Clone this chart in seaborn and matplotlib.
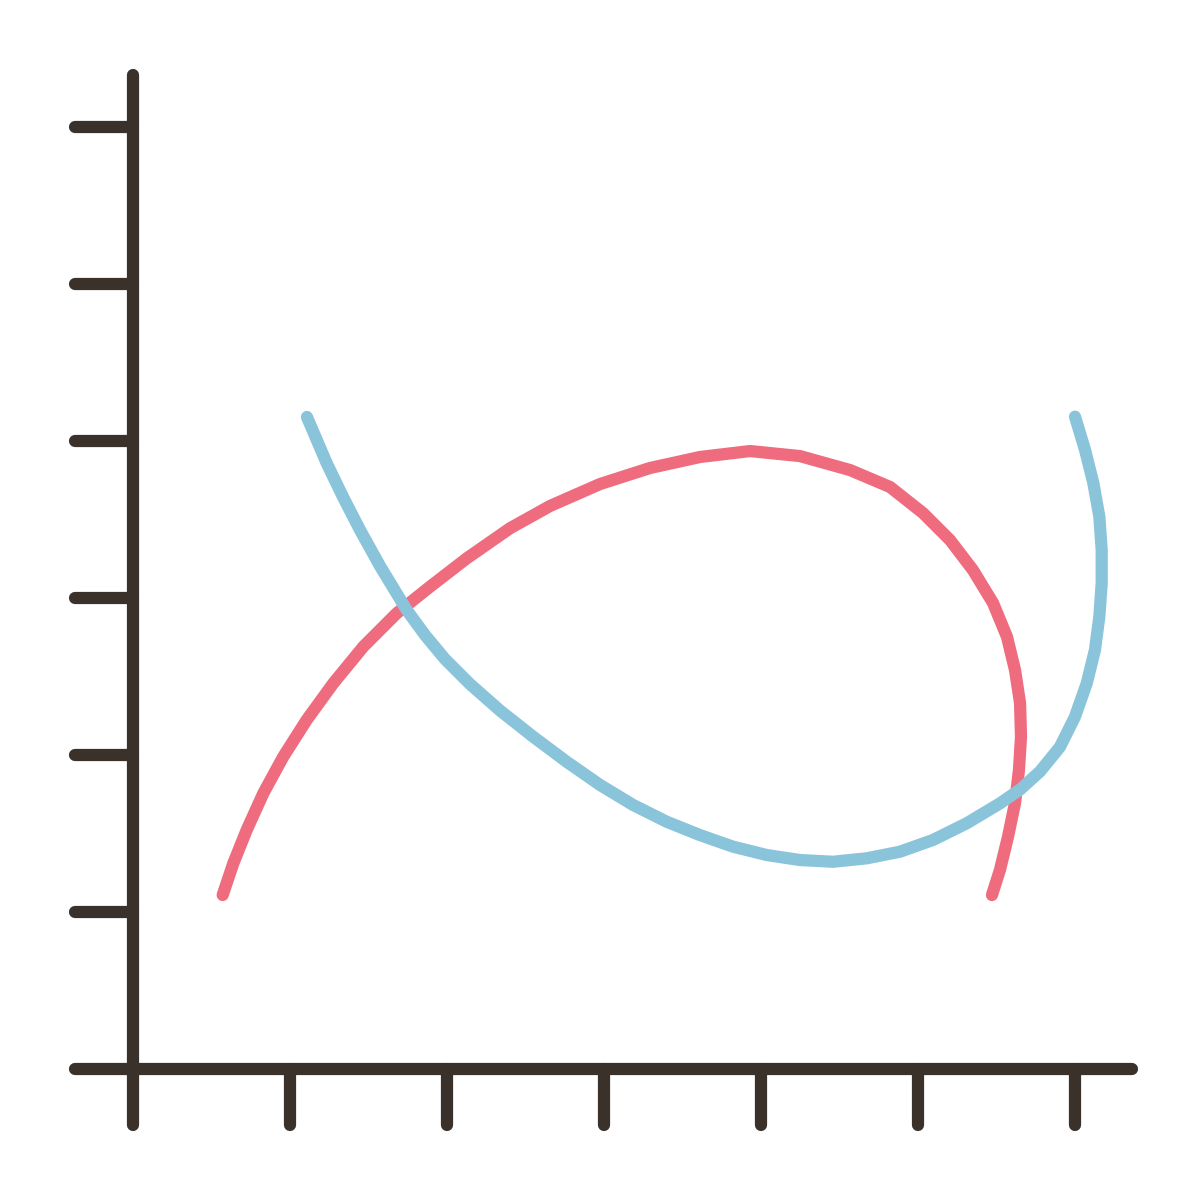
import matplotlib
matplotlib.use("Agg")
import matplotlib.pyplot as plt
import seaborn as sns
import pandas as pd

sns.set_theme(style="white")

# Data (in tick units)
red_x = [0.571, 0.639, 0.724, 0.830, 0.957, 1.106, 1.276, 1.467, 1.680, 1.892, 2.125, 2.401,
         2.656, 2.975, 3.293, 3.611, 3.930, 4.248, 4.567, 4.822, 5.032, 5.204, 5.350, 5.478,
         5.567, 5.618, 5.650, 5.656, 5.643, 5.618, 5.573, 5.522, 5.471]
red_y = [1.108, 1.310, 1.522, 1.756, 1.989, 2.223, 2.457, 2.690, 2.903, 3.072, 3.252, 3.444,
         3.586, 3.726, 3.828, 3.898, 3.936, 3.904, 3.815, 3.707, 3.541, 3.369, 3.178, 2.968,
         2.752, 2.541, 2.331, 2.115, 1.904, 1.694, 1.478, 1.268, 1.108]
blue_x = [1.108, 1.234, 1.338, 1.446, 1.573, 1.743, 1.860, 1.987, 2.146, 2.338, 2.548, 2.762,
          2.975, 3.185, 3.399, 3.611, 3.822, 4.036, 4.248, 4.459, 4.673, 4.885, 5.096, 5.310,
          5.522, 5.650, 5.777, 5.904, 6.000, 6.075, 6.127, 6.155, 6.170, 6.170, 6.155, 6.117,
          6.064, 6.000]
blue_y = [4.153, 3.858, 3.643, 3.433, 3.204, 2.924, 2.764, 2.611, 2.452, 2.283, 2.117, 1.957,
          1.809, 1.682, 1.575, 1.490, 1.416, 1.363, 1.331, 1.320, 1.342, 1.384, 1.459, 1.565,
          1.692, 1.780, 1.895, 2.051, 2.244, 2.457, 2.669, 2.881, 3.094, 3.306, 3.518, 3.731,
          3.943, 4.155]
x_ticks = [1, 2, 3, 4, 5, 6]
y_ticks = [1, 2, 3, 4, 5, 6]

RED = "#EE6C7D"
BLUE = "#8AC4DB"
DARK = "#3B312B"
LW = 8.8

fig = plt.figure(figsize=(12, 12), dpi=100)
ax = fig.add_axes([0, 0, 1, 1])
ax.set_xlim(-133 / 157, (1200 - 133) / 157)
ax.set_ylim(-(1200 - 1069) / 157, 1069 / 157)
ax.axis("off")

# axes frame with round caps
axis_kw = dict(color=DARK, lw=LW, solid_capstyle="round", zorder=1)
ax.plot([0, 0], [-0.357, 6.33], **axis_kw)
ax.plot([-0.369, 6.36], [0, 0], **axis_kw)
for t in x_ticks:
    ax.plot([t, t], [0, -0.357], **axis_kw)
for t in y_ticks:
    ax.plot([0, -0.369], [t, t], **axis_kw)

red = pd.DataFrame({"x": red_x, "y": red_y})
blue = pd.DataFrame({"x": blue_x, "y": blue_y})
sns.lineplot(data=red, x="x", y="y", sort=False, estimator=None, color=RED, lw=LW,
             solid_capstyle="round", solid_joinstyle="round", ax=ax, zorder=2)
sns.lineplot(data=blue, x="x", y="y", sort=False, estimator=None, color=BLUE, lw=LW,
             solid_capstyle="round", solid_joinstyle="round", ax=ax, zorder=3)
ax.axis("off")

fig.savefig("out.png", dpi=100, facecolor="white")
